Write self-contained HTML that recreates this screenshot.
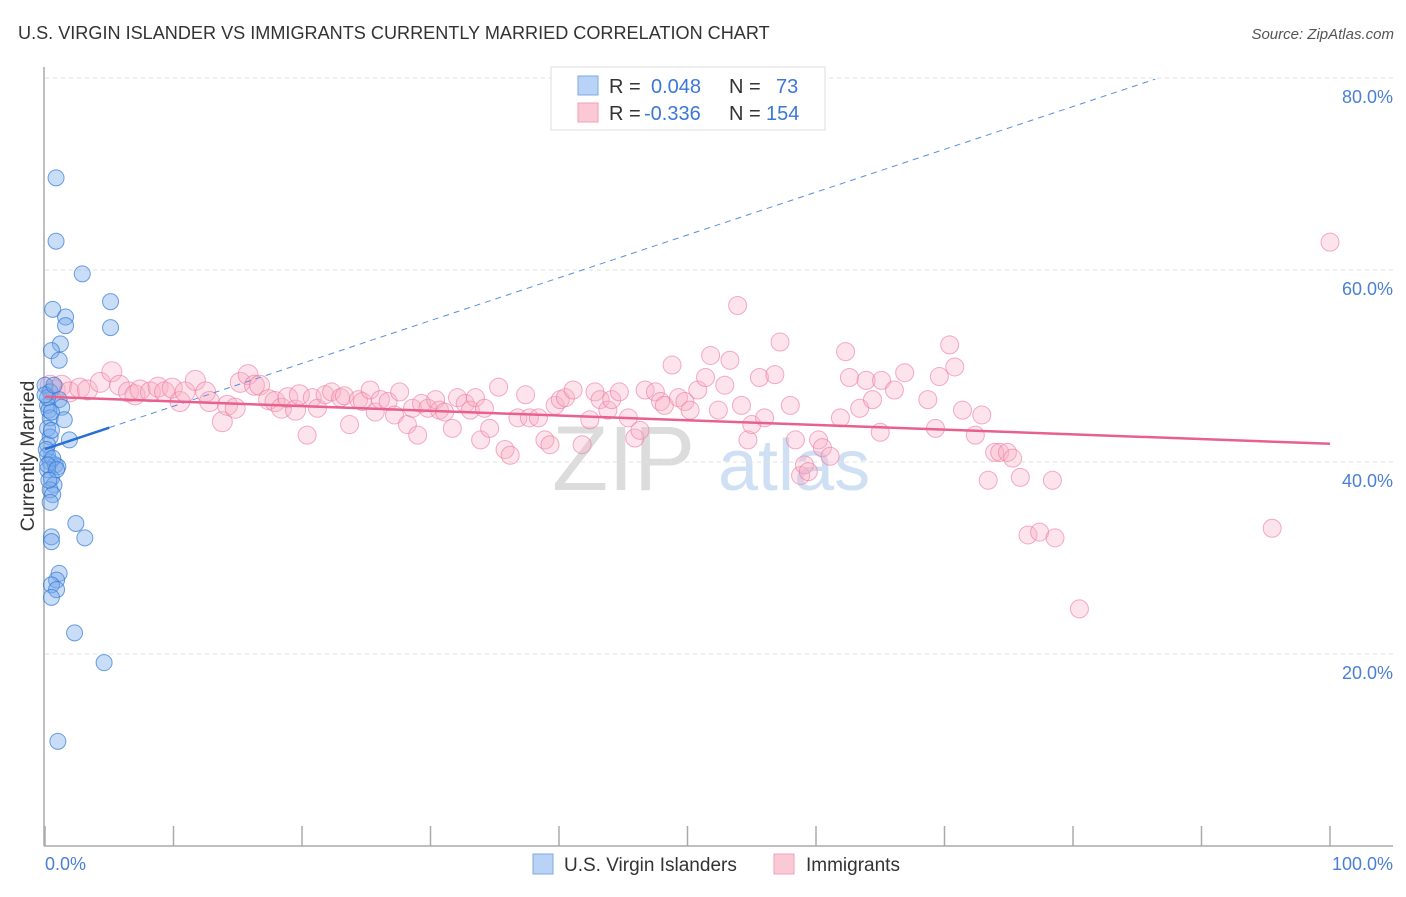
<!DOCTYPE html>
<html><head><meta charset="utf-8">
<style>
body{margin:0;background:#fff;font-family:"Liberation Sans",sans-serif;}
svg text{font-family:"Liberation Sans",sans-serif;}
</style></head>
<body>
<svg id="chart" width="1406" height="892" xmlns="http://www.w3.org/2000/svg">
<text x="18" y="39" font-size="18.1" fill="#333">U.S. VIRGIN ISLANDER VS IMMIGRANTS CURRENTLY MARRIED CORRELATION CHART</text>
<text x="1394" y="39" font-size="15" fill="#555" font-style="italic" text-anchor="end">Source: ZipAtlas.com</text>
<g>
<text x="552" y="490" font-size="92" fill="#dcdcdc" font-family="Liberation Serif,serif">ZIP</text>
<text x="718" y="490" font-size="72" fill="#cfe0f4">atlas</text>
</g>
<g id="grid"></g>
<g id="axes"></g>
<g id="pinkpts"></g>
<g id="bluepts"></g>
<g id="trends"></g>
<text transform="translate(34,456) rotate(-90)" font-size="19.5" fill="#333" text-anchor="middle">Currently Married</text>
<text x="45" y="870" font-size="18" fill="#4a7fd4">0.0%</text>
<text x="1393" y="870" font-size="18" fill="#4a7fd4" text-anchor="end">100.0%</text>
<g>
<rect x="551" y="67" width="274" height="63" fill="#fff" stroke="#ddd"/>
<rect x="578" y="76" width="20" height="19" fill="#b8d3f5" stroke="#7fa9e0"/>
<rect x="578" y="103" width="20" height="19" fill="#fbc8d6" stroke="#f0a0b8"/>
<text x="609" y="93" font-size="20" fill="#333">R =<tspan x="651" fill="#3a78d8">0.048</tspan><tspan x="729" fill="#333">N =</tspan><tspan x="776" fill="#3a78d8">73</tspan></text>
<text x="609" y="120" font-size="20" fill="#333">R =<tspan x="644" fill="#3a78d8">-0.336</tspan><tspan x="729" fill="#333">N =</tspan><tspan x="766" fill="#3a78d8">154</tspan></text>
</g>
<g>
<rect x="533" y="854" width="20" height="20" fill="#b8d3f5" stroke="#7fa9e0"/>
<text x="564" y="871" font-size="19" fill="#333">U.S. Virgin Islanders</text>
<rect x="774" y="854" width="20" height="20" fill="#fbc8d6" stroke="#f0a0b8"/>
<text x="806" y="871" font-size="19" fill="#333">Immigrants</text>
</g>
</svg>
<script>
const yTicks=[20,40,60,80];
const yTickLabels=["20.0%","40.0%","60.0%","80.0%"];
const xTicks=[0,10,20,30,40,50,60,70,80,90,100];
const blueX=[0.86,0.86,2.9,0.6,5.1,1.6,1.6,5.1,1.2,0.5,1.1,0,0.4,1.1,0.2,1.3,0.3,0.4,1.5,0.2,0.4,1.9,0.2,0.2,0.4,0.8,1.0,0.2,0.5,0.7,0.4,0.6,0.4,2.4,3.1,0.5,0.5,1.1,0.9,0.5,0.9,0.5,2.3,4.6,1.0,0.2,0.5,0.1,0.6,0.2,0.9,0.3,0,0.7,0.5];
const blueY=[69.6,63.0,59.6,55.9,56.7,55.1,54.2,54.0,52.3,51.6,50.6,48.0,47.3,46.5,45.9,45.7,45.4,44.6,44.4,43.5,42.6,42.3,41.8,40.7,40.0,39.7,39.5,39.2,38.3,37.6,37.1,36.6,35.8,33.6,32.1,32.2,31.7,28.4,27.7,27.2,26.7,25.9,22.2,19.1,10.9,46.7,43.3,41.3,40.4,39.7,39.2,38.1,47.0,48.0,45.2];
const pinkX=[0.4,0.8,1.3,1.9,2.7,3.3,4.3,5.2,5.8,6.5,7.0,7.4,8.2,8.8,9.3,9.9,10.5,10.9,11.7,12.5,12.8,13.8,14.2,14.8,15.2,15.8,16.3,16.7,17.4,17.9,18.4,18.9,19.5,19.8,20.4,20.8,21.2,21.8,22.3,23.0,23.3,23.7,24.4,24.7,25.3,25.7,26.1,26.7,27.2,27.6,28.2,28.6,29.0,29.3,29.8,30.4,30.7,31.1,31.7,32.1,32.7,33.1,33.5,33.9,34.2,34.6,35.3,35.8,36.2,36.8,37.4,37.7,38.4,38.9,39.3,39.7,40.1,40.5,41.1,41.8,42.4,42.8,43.2,43.8,44.1,44.7,45.4,45.9,46.3,46.7,47.5,47.9,48.2,48.8,49.3,49.8,50.2,50.8,51.4,51.8,52.4,52.9,53.3,53.9,54.2,54.7,55.0,55.6,56.0,56.8,57.2,58.0,58.4,58.8,59.1,59.4,60.2,60.5,61.1,61.9,62.3,62.6,63.4,63.9,64.4,65.0,65.1,66.1,66.9,68.7,69.3,69.6,70.4,70.8,71.4,72.4,72.9,73.4,73.9,74.3,74.9,75.3,75.9,76.5,77.4,78.6,78.4,80.5,95.5,100];
const pinkY=[48.0,47.5,48.0,47.3,47.7,47.5,48.3,49.4,48.0,47.3,47.0,47.5,47.3,47.8,47.3,47.7,46.3,47.3,48.5,47.3,46.3,44.2,45.9,45.6,48.3,49.1,48.0,48.0,46.5,46.3,45.6,46.7,45.4,47.0,42.8,46.7,45.6,47.0,47.3,46.7,46.9,43.9,46.5,46.3,47.5,45.2,46.5,46.3,44.9,47.3,43.9,45.6,42.8,46.1,45.6,46.5,45.4,45.2,43.5,46.7,46.1,45.4,46.7,42.3,45.6,43.5,47.8,41.3,40.7,44.6,47.0,44.6,44.6,42.3,41.8,45.9,46.5,46.7,47.5,41.8,44.4,47.3,46.5,45.4,46.5,47.3,44.6,42.5,43.3,47.5,47.3,46.3,45.9,50.1,46.7,46.3,45.4,47.5,48.8,51.1,45.4,48.0,50.6,56.3,45.9,42.3,43.9,48.8,44.6,49.1,52.5,45.9,42.3,38.6,39.7,39.0,42.3,41.5,40.6,44.6,51.5,48.8,45.6,48.5,46.5,43.1,48.5,47.5,49.3,46.5,43.5,48.9,52.2,49.9,45.4,42.8,44.9,38.1,41.0,41.0,41.0,40.4,38.4,32.4,32.7,32.1,38.1,24.7,33.1,62.9];
const blueTrend=[41.35,0.446];
const pinkTrend=[46.8,-0.049];
const X0=45,X1=1330,Y0=846,YPX=9.6;
const sx=v=>X0+(X1-X0)*v/100;
const sy=v=>Y0-v*YPX;
const NS="http://www.w3.org/2000/svg";
function mk(tag,attrs,parent){const e=document.createElementNS(NS,tag);for(const k in attrs)e.setAttribute(k,attrs[k]);parent.appendChild(e);return e;}
const gridG=document.getElementById('grid'),axesG=document.getElementById('axes');
yTicks.forEach((t,i)=>{
  const l=mk('line',{x1:45,x2:1393,y1:sy(t),y2:sy(t),stroke:'#e2e2e2','stroke-dasharray':'4,4'},gridG);
  
  
  const tx=mk('text',{x:1393,y:sy(t)+25,'font-size':18,fill:'#4a7fd4','text-anchor':'end'},gridG);
  tx.textContent=yTickLabels[i];
  
  
});
const ya=mk('line',{x1:44,x2:44,y1:67,y2:846,stroke:'#aaa','stroke-width':1.5},axesG);


const xa=mk('line',{x1:44,x2:1393,y1:846,y2:846,stroke:'#aaa','stroke-width':1.5},axesG);


xTicks.forEach(t=>{
  const l=mk('line',{x1:sx(t),x2:sx(t),y1:826,y2:846,stroke:'#aaa','stroke-width':1.5},axesG);
  
  
});
const pg=document.getElementById('pinkpts');
pinkX.forEach((x,i)=>{
  const c=mk('circle',{cx:sx(x),cy:sy(pinkY[i]),r:x<20?10:9,fill:'rgba(248,175,198,0.35)',stroke:'rgba(236,120,158,0.6)','stroke-width':1},pg);
  
  
});
const bg=document.getElementById('bluepts');
blueX.forEach((x,i)=>{
  const c=mk('circle',{cx:sx(x),cy:sy(blueY[i]),r:8,fill:'rgba(120,170,235,0.4)',stroke:'rgba(50,120,215,0.7)','stroke-width':1},bg);
  
  
});
const tg=document.getElementById('trends');
const bDash=mk('line',{x1:sx(5),y1:sy(blueTrend[0]+blueTrend[1]*5),x2:sx(86.4),y2:sy(blueTrend[0]+blueTrend[1]*86.4),stroke:'#5b8fd8','stroke-width':1,'stroke-dasharray':'6,5'},tg);


const bSolid=mk('line',{x1:sx(0),y1:sy(blueTrend[0]),x2:sx(5),y2:sy(blueTrend[0]+blueTrend[1]*5),stroke:'#2a6fd6','stroke-width':2.5},tg);


const pl=mk('line',{x1:sx(0),y1:sy(pinkTrend[0]),x2:sx(100),y2:sy(pinkTrend[0]+pinkTrend[1]*100),stroke:'#e8608f','stroke-width':2.5},tg);


</script>
</body></html>
